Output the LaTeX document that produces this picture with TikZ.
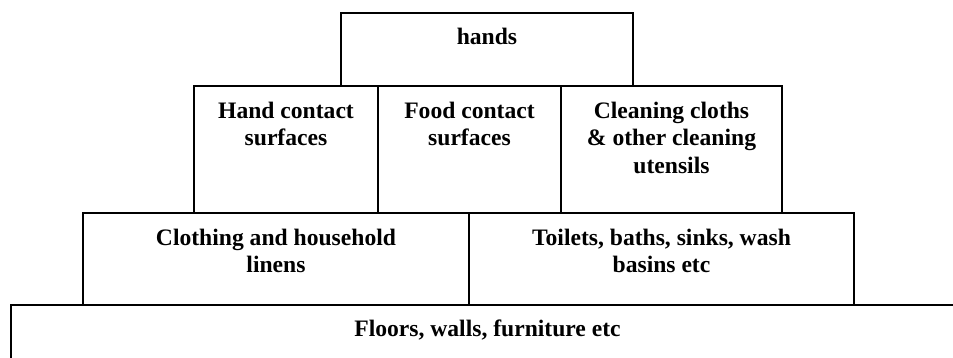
\documentclass[tikz,border=0pt]{standalone}
\usepackage{fontspec}
\setmainfont{Liberation Serif}
\begin{document}
\begin{tikzpicture}[x=1pt,y=-1pt,
  box/.style={draw, line width=1.8pt, inner sep=0pt, outer sep=0pt, anchor=north west},
  txt/.style={anchor=north, inner sep=0pt, align=center, font=\fontsize{23.6}{27.8}\selectfont\bfseries}]
\useasboundingbox (0,0) rectangle (953,358);
\clip (0,0) rectangle (953,358);
% boxes
\node[box, minimum width=292pt, minimum height=73pt] (hands) at (341,13) {};
\node[box, minimum width=184pt, minimum height=127pt] (hcs) at (194,86) {};
\node[box, minimum width=183pt, minimum height=127pt] (fcs) at (378,86) {};
\node[box, minimum width=221pt, minimum height=127pt] (ccl) at (561,86) {};
\node[box, minimum width=386pt, minimum height=92pt] (clo) at (83,213) {};
\node[box, minimum width=385pt, minimum height=92pt] (toi) at (469,213) {};
\node[box, minimum width=953pt, minimum height=80pt] (flo) at (11,305) {};
% texts
\node[txt] (thands) at ([yshift=-15pt]hands.north) {hands};
\node[txt] (thcs) at ([yshift=-15.5pt]hcs.north) {Hand contact\\surfaces};
\node[txt] (tfcs) at ([yshift=-15.5pt]fcs.north) {Food contact\\surfaces};
\node[txt] (tccl) at ([yshift=-15.5pt]ccl.north) {Cleaning cloths\\\& other cleaning\\utensils};
\node[txt] (tclo) at ([yshift=-15.5pt]clo.north) {Clothing and household\\linens};
\node[txt] (ttoi) at ([yshift=-15.5pt]toi.north) {Toilets, baths, sinks, wash\\basins etc};
\node[txt] (tflo) at ([yshift=-15pt]flo.north) {Floors, walls, furniture etc};
\end{tikzpicture}
\end{document}
